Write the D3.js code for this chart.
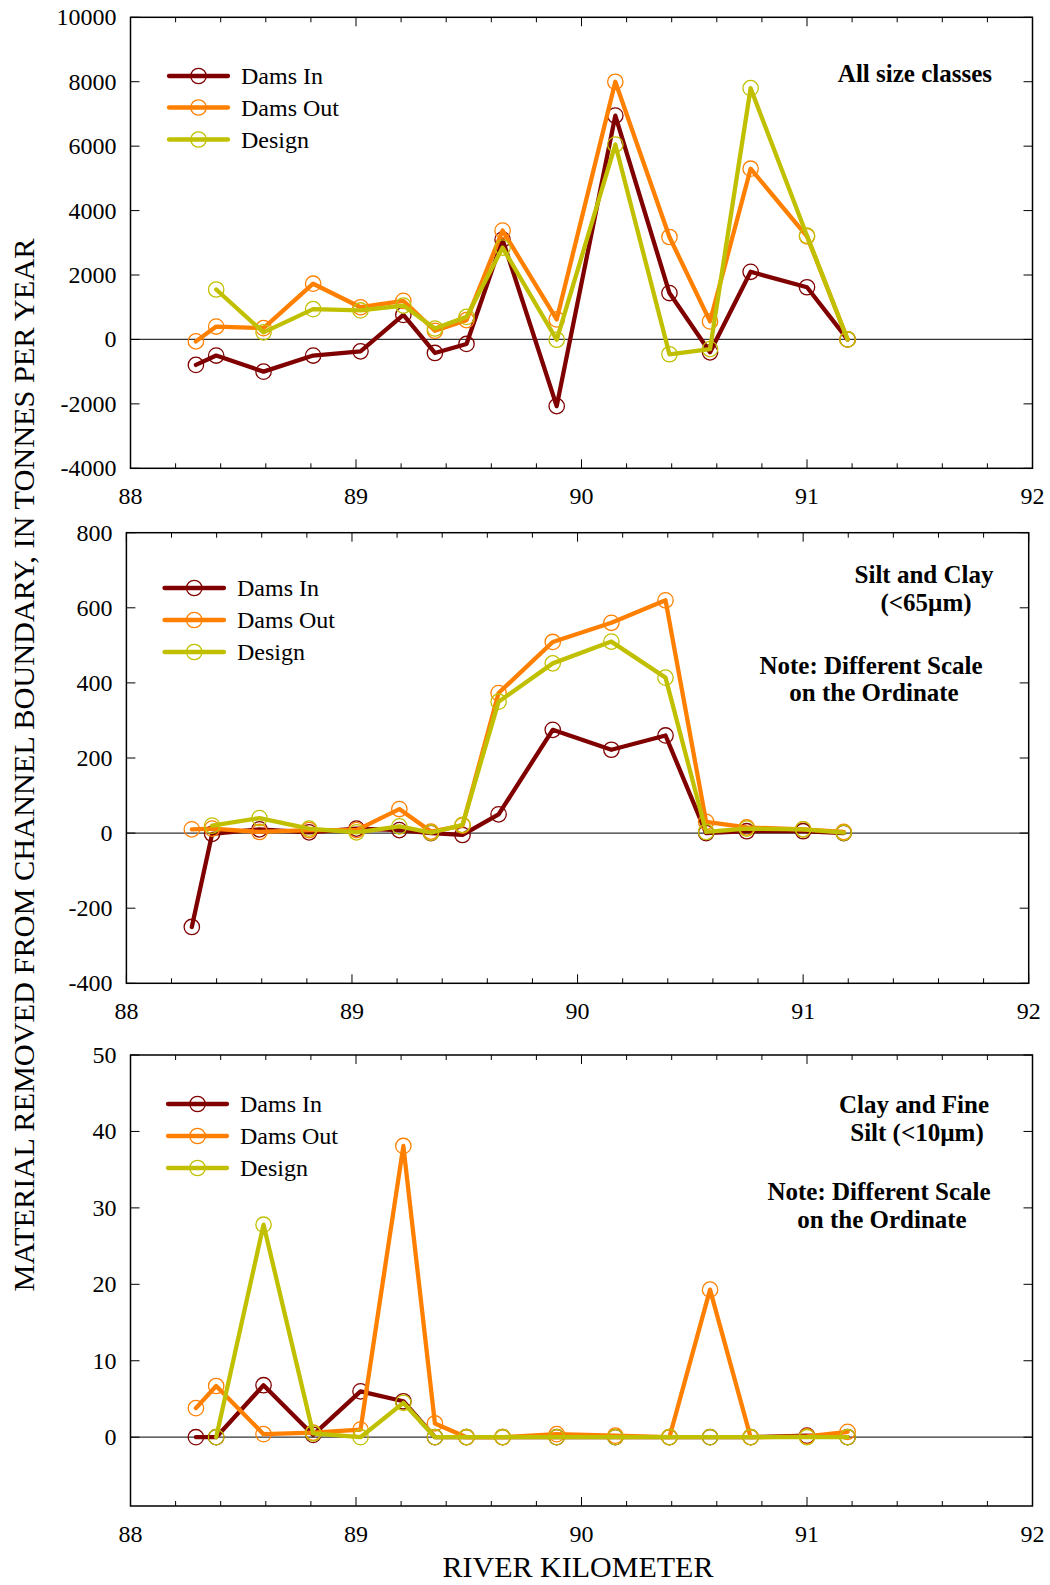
<!DOCTYPE html>
<html>
<head>
<meta charset="utf-8">
<script src="https://cdn.jsdelivr.net/npm/d3@7"></script>
<style>
  body { margin: 0; background: #fff; }
  svg { display: block; }
  text { font-family: "Liberation Serif", "Times New Roman", serif; fill: #000; }
</style>
</head>
<body>
<svg id="chart" width="1050" height="1585"></svg>
<script>
// river kilometer of each cross section
const stations = [88.29, 88.38, 88.59, 88.81, 89.02, 89.21, 89.35, 89.49, 89.65, 89.89, 90.15, 90.39, 90.57, 90.75, 91.00, 91.18];
const seriesNames = ["Dams In", "Dams Out", "Design"];
const seriesColors = ["#800000", "#ff8000", "#c0c000"];

// all size classes
const allDamsIn  = [-790, -500, -1000, -500, -370, 760, -420, -140, 3100, -2070, 6950, 1440, -400, 2100, 1620, 0];
const allDamsOut = [-60, 400, 350, 1730, 1000, 1200, 270, 600, 3380, 620, 8000, 3180, 560, 5300, 3200, 0];
const allDesign  = [null, 1550, 220, 940, 900, 1050, 340, 700, 2850, -10, 6050, -460, -300, 7800, 3220, 0];

// silt and clay (<65um)
const siltDamsIn  = [-250, -2, 10, 2, 12, 8, 0, -5, 50, 275, 222, 260, 0, 5, 5, 0];
const siltDamsOut = [10, 12, 3, 8, 8, 64, 4, 20, 373, 509, 560, 620, 30, 15, 10, 3];
const siltDesign  = [null, 20, 40, 12, 2, 18, 1, 22, 350, 452, 510, 414, 3, 12, 10, 1];

// clay and fine silt (<10um)
const clayDamsIn  = [0, 0, 6.8, 0.3, 6.0, 4.7, 0, 0, 0, 0, 0, 0, 0, 0, 0.2, 0];
const clayDamsOut = [3.8, 6.7, 0.4, 0.6, 1.0, 38.1, 1.8, 0, 0, 0.4, 0.2, 0, 19.3, 0, 0.1, 0.7];
const clayDesign  = [null, 0, 27.8, 0.5, 0, 4.5, 0, 0, 0, 0, 0, 0, 0, 0, 0, 0];

const xTicks = [88, 89, 90, 91, 92];
const allTicks = [-4000, -2000, 0, 2000, 4000, 6000, 8000, 10000];
const siltTicks = [-400, -200, 0, 200, 400, 600, 800];
const clayTicks = [0, 10, 20, 30, 40, 50];

const panels = [
    { box: { l: 130.5, r: 1032.5, t: 17.3, b: 468.3 }, domain: [-4000, 10000], ticks: allTicks,
      series: [allDamsIn, allDamsOut, allDesign],
      legend: { x1: 169, x2: 228, tx: 241, y: [76, 107.5, 139.5] },
      notes: [{ text: "All size classes", x: 992, y: 82, anchor: "end" }] },
    { box: { l: 126.4, r: 1028.7, t: 532.7, b: 983.3 }, domain: [-400, 800], ticks: siltTicks,
      series: [siltDamsIn, siltDamsOut, siltDesign],
      legend: { x1: 164.5, x2: 224, tx: 237, y: [588, 620, 652] },
      notes: [{ text: "Silt and Clay", x: 924, y: 583 }, { text: "(<65µm)", x: 926, y: 611 },
              { text: "Note: Different Scale", x: 871, y: 674 }, { text: "on the Ordinate", x: 874, y: 701 }] },
    { box: { l: 130.5, r: 1032.5, t: 1055, b: 1506 }, domain: [-9, 50], ticks: clayTicks,
      series: [clayDamsIn, clayDamsOut, clayDesign],
      legend: { x1: 168, x2: 227, tx: 240, y: [1104, 1136, 1168] },
      notes: [{ text: "Clay and Fine", x: 914, y: 1113 }, { text: "Silt (<10µm)", x: 917, y: 1141 },
              { text: "Note: Different Scale", x: 879, y: 1200 }, { text: "on the Ordinate", x: 882, y: 1228 }] }
];

const svg = d3.select("#chart");

const drawPanel = (p) => {
    const xScale = d3.scaleLinear().domain([88, 92]).range([p.box.l, p.box.r]);
    const yScale = d3.scaleLinear().domain(p.domain).range([p.box.b, p.box.t]);
    const g = svg.append("g");

    // zero line
    g.append("line")
        .attr("x1", p.box.l).attr("x2", p.box.r)
        .attr("y1", yScale(0)).attr("y2", yScale(0))
        .attr("stroke", "#333").attr("stroke-width", 1.3);

    // ticks on all four sides, pointing in
    const minor = d3.range(88, 92.001, 0.2);
    minor.forEach(v => {
        const major = Math.abs(v - Math.round(v)) < 1e-6;
        const len = major ? 9 : 5;
        g.append("line").attr("x1", xScale(v)).attr("x2", xScale(v))
            .attr("y1", p.box.b).attr("y2", p.box.b - len).attr("stroke", "#000");
        g.append("line").attr("x1", xScale(v)).attr("x2", xScale(v))
            .attr("y1", p.box.t).attr("y2", p.box.t + len).attr("stroke", "#000");
    });
    p.ticks.forEach(v => {
        g.append("line").attr("x1", p.box.l).attr("x2", p.box.l + 9)
            .attr("y1", yScale(v)).attr("y2", yScale(v)).attr("stroke", "#000");
        g.append("line").attr("x1", p.box.r).attr("x2", p.box.r - 9)
            .attr("y1", yScale(v)).attr("y2", yScale(v)).attr("stroke", "#000");
    });

    g.selectAll(".ylab").data(p.ticks).join("text")
        .attr("x", p.box.l - 14).attr("y", d => yScale(d))
        .attr("text-anchor", "end").attr("dominant-baseline", "central")
        .attr("font-size", 24).text(d => d);
    g.selectAll(".xlab").data(xTicks).join("text")
        .attr("x", d => xScale(d)).attr("y", p.box.b + 36)
        .attr("text-anchor", "middle").attr("font-size", 24).text(d => d);

    // frame
    g.append("rect")
        .attr("x", p.box.l).attr("y", p.box.t)
        .attr("width", p.box.r - p.box.l).attr("height", p.box.b - p.box.t)
        .attr("fill", "none").attr("stroke", "#000").attr("stroke-width", 1.5);

    // series
    p.series.forEach((vals, i) => {
        const pts = stations.map((s, j) => ({ x: s, y: vals[j] })).filter(d => d.y !== null);
        const line = d3.line().x(d => xScale(d.x)).y(d => yScale(d.y));
        g.append("path").datum(pts)
            .attr("d", line).attr("fill", "none")
            .attr("stroke", seriesColors[i]).attr("stroke-width", 4.3)
            .attr("stroke-linejoin", "round").attr("stroke-linecap", "round");
        g.selectAll(".pt" + i).data(pts).join("circle")
            .attr("cx", d => xScale(d.x)).attr("cy", d => yScale(d.y))
            .attr("r", 7.7).attr("fill", "none")
            .attr("stroke", seriesColors[i]).attr("stroke-width", 1.3);
    });

    // legend
    seriesNames.forEach((name, i) => {
        const y = p.legend.y[i];
        g.append("line").attr("x1", p.legend.x1).attr("x2", p.legend.x2)
            .attr("y1", y).attr("y2", y)
            .attr("stroke", seriesColors[i]).attr("stroke-width", 4.3).attr("stroke-linecap", "round");
        g.append("circle").attr("cx", (p.legend.x1 + p.legend.x2) / 2).attr("cy", y)
            .attr("r", 7.7).attr("fill", "none").attr("stroke", seriesColors[i]).attr("stroke-width", 1.3);
        g.append("text").attr("x", p.legend.tx).attr("y", y)
            .attr("dominant-baseline", "central").attr("font-size", 24).text(name);
    });

    p.notes.forEach(n => {
        g.append("text").attr("x", n.x).attr("y", n.y)
            .attr("text-anchor", n.anchor || "middle")
            .attr("font-size", 25).attr("font-weight", "bold").text(n.text);
    });
};

panels.forEach(drawPanel);

svg.append("text")
    .attr("transform", "translate(34, 765) rotate(-90)")
    .attr("text-anchor", "middle").attr("font-size", 30.3)
    .text("MATERIAL REMOVED FROM CHANNEL BOUNDARY, IN TONNES PER YEAR");

svg.append("text")
    .attr("x", 578).attr("y", 1577)
    .attr("text-anchor", "middle").attr("font-size", 30)
    .text("RIVER KILOMETER");
</script>
</body>
</html>
